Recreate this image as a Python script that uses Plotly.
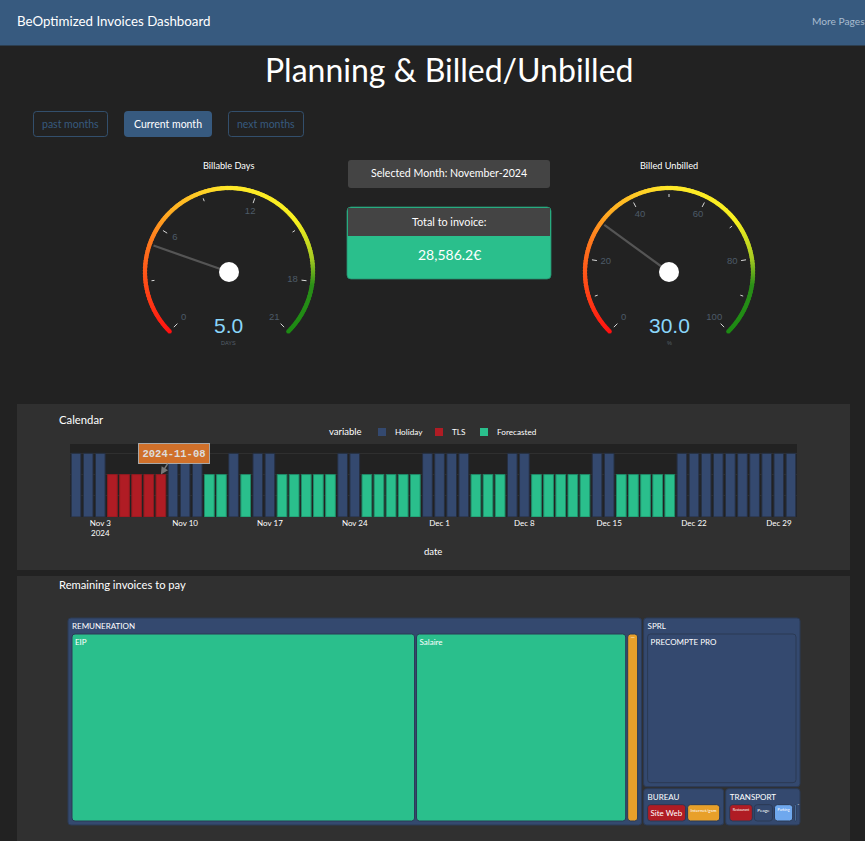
import plotly.graph_objects as go

W, H = 865, 841
FONT = "Lato"
BG = "#222222"
PANEL = "#303030"
NAVY = "#375a7f"
GREEN = "#2abf8c"
BLUE = "#34496f"
RED = "#b01c24"

# ---- data ----
gauge_titles = ["Billable Days", "Billed Unbilled"]
gauge_values = [5.0, 30.0]
gauge_units = ["DAYS", "%"]
gauge_max = [21, 100]
gauge_ticks = [[0, 3, 6, 9, 12, 15, 18, 21],
               [0, 10, 20, 30, 40, 50, 60, 70, 80, 90, 100]]
gauge_labels = [[0, 6, 12, 18, 21], [0, 20, 40, 60, 80, 100]]

holiday_dates = ["2024-11-01", "2024-11-02", "2024-11-03", "2024-11-09", "2024-11-10", "2024-11-11",
                 "2024-11-14", "2024-11-16", "2024-11-17", "2024-11-23", "2024-11-24", "2024-11-30",
                 "2024-12-01", "2024-12-02", "2024-12-03", "2024-12-07", "2024-12-08", "2024-12-14",
                 "2024-12-15", "2024-12-21", "2024-12-22", "2024-12-23", "2024-12-24", "2024-12-25",
                 "2024-12-26", "2024-12-27", "2024-12-28", "2024-12-29", "2024-12-30"]
tls_dates = ["2024-11-04", "2024-11-05", "2024-11-06", "2024-11-07", "2024-11-08"]
forecast_dates = ["2024-11-12", "2024-11-13", "2024-11-15", "2024-11-18", "2024-11-19", "2024-11-20",
                  "2024-11-21", "2024-11-22", "2024-11-25", "2024-11-26", "2024-11-27", "2024-11-28",
                  "2024-11-29", "2024-12-04", "2024-12-05", "2024-12-06", "2024-12-09", "2024-12-10",
                  "2024-12-11", "2024-12-12", "2024-12-13", "2024-12-16", "2024-12-17", "2024-12-18",
                  "2024-12-19", "2024-12-20"]
holiday_value = 1.5
workday_value = 1.0

tm_labels = ["REMUNERATION", "SPRL", "BUREAU", "TRANSPORT", "EIP", "Salaire", "Autres",
             "PRECOMPTE PRO", "Site Web", "Internet/gsm", "Restaurant", "Peage", "Parking", "Taxi"]
tm_parents = ["", "", "", "", "REMUNERATION", "REMUNERATION", "REMUNERATION", "SPRL",
              "BUREAU", "BUREAU", "TRANSPORT", "TRANSPORT", "TRANSPORT", "TRANSPORT"]
tm_values = [21873, 4915, 572, 532, 13277, 8137, 459, 4915, 309, 263, 192, 157, 157, 26]
tm_colors = [BLUE, BLUE, BLUE, BLUE, GREEN, GREEN, "#e8a02a", BLUE, RED, "#e8a02a", RED, BLUE,
             "#6fa8ee", "#6fa8ee"]


# ---- pixel helpers ----
def fx(x):
    return x / W


def fy(y):
    return 1 - y / H


def box(x0, y0, x1, y1, fill="rgba(0,0,0,0)", line=None, r=3, width=0.8):
    p = (f"M{fx(x0+r)},{fy(y0)} L{fx(x1-r)},{fy(y0)} Q{fx(x1)},{fy(y0)} {fx(x1)},{fy(y0+r)} "
         f"L{fx(x1)},{fy(y1-r)} Q{fx(x1)},{fy(y1)} {fx(x1-r)},{fy(y1)} "
         f"L{fx(x0+r)},{fy(y1)} Q{fx(x0)},{fy(y1)} {fx(x0)},{fy(y1-r)} "
         f"L{fx(x0)},{fy(y0+r)} Q{fx(x0)},{fy(y0)} {fx(x0+r)},{fy(y0)} Z")
    return dict(type="path", path=p, xref="paper", yref="paper", fillcolor=fill, layer="below",
                line=dict(color=line or "rgba(0,0,0,0)", width=width if line else 0))


def rect(x0, y0, x1, y1, fill):
    return dict(type="rect", xref="paper", yref="paper", x0=fx(x0), x1=fx(x1), y0=fy(y1), y1=fy(y0),
                fillcolor=fill, line=dict(width=0), layer="below")


def label(x, y, s, size=11, color="white", anchor="center", font=FONT):
    # annotations add a small pad on the anchored side
    xp = x - 2 if anchor == "left" else x
    return dict(text=s, x=fx(xp), y=fy(y), xref="paper", yref="paper", xanchor=anchor, yanchor="middle",
                showarrow=False, font=dict(family=font, size=size, color=color))


shapes = [
    rect(0, 0, W, 45.5, NAVY),
    rect(17, 404, 850, 570, PANEL),
    rect(17, 576, 850, H, PANEL),
    rect(70, 444, 797, 517, BG),
    box(33.5, 111.5, 107.5, 136.5, line=NAVY),
    box(124, 111, 212, 137, fill=NAVY, r=4),
    box(228.5, 111.5, 303.5, 136.5, line=NAVY),
    box(348, 160, 550, 188, fill="#444444"),
    box(347, 207, 551, 279, fill=GREEN, line="#26906f", r=4),
    rect(348, 208, 550, 236, "#444444"),
]

annotations = [
    label(17, 21, "BeOptimized Invoices Dashboard", 13.3, anchor="left"),
    label(812, 21, "More Pages", 10.2, "#a8bccf", anchor="left"),
    label(449, 70, "Planning &amp; Billed/Unbilled", 32),
    label(70.5, 124, "past months", 10.5, NAVY),
    label(168, 124, "Current month", 10.5),
    label(266, 124, "next months", 10.5, NAVY),
    label(449, 173, "Selected Month: November-2024", 10.6),
    label(449, 221, "Total to invoice:", 10.8),
    label(449, 254, "28,586.2€", 14),
    label(59, 419.5, "Calendar", 11.3, anchor="left"),
    label(59, 584.5, "Remaining invoices to pay", 11.2, anchor="left"),
    label(345.5, 431, "variable", 9.5),
    label(433, 551.5, "date", 9.5),
]

fig = go.Figure()

# ---- calendar ----
series = [("Holiday", holiday_dates, holiday_value, BLUE, "#262f40"),
          ("TLS", tls_dates, workday_value, RED, "#8f1b20"),
          ("Forecasted", forecast_dates, workday_value, GREEN, "#1f8a68")]
legend_x = [382, 439, 484]
for (name, dates, val, col, edge), lx in zip(series, legend_x):
    fig.add_trace(go.Bar(x=dates, y=[val] * len(dates), name=name, showlegend=False,
                         marker=dict(color=col, line=dict(color=edge, width=1))))
    shapes.append(rect(lx - 4, 428, lx + 4, 436, col))
    annotations.append(label(lx + 13, 431.8, name, 8.2, anchor="left"))

fig.update_layout(
    barmode="overlay", bargap=0.2,
    xaxis=dict(domain=[fx(70), fx(797)], range=["2024-10-31 12:00", "2024-12-30 12:00"], type="date",
               tick0="2024-11-03", dtick=7 * 86400000, showgrid=False, zeroline=False, ticks="",
               tickfont=dict(family=FONT, size=8, color="white")),
    yaxis=dict(domain=[fy(517), fy(444)], range=[0, 1.72], dtick=0.5, showticklabels=False,
               gridcolor="#2f2f2f", zeroline=False),
    plot_bgcolor=BG,
)
annotations.append(dict(x="2024-11-08", y=workday_value, xref="x", yref="y", ax=13, ay=-21,
                        text="<b>2024-11-08</b>", showarrow=True, arrowhead=2, arrowsize=1, arrowwidth=1.5,
                        arrowcolor="#777777", bgcolor="#d0702a", bordercolor="#a8a8a8", borderwidth=1,
                        borderpad=3.5, font=dict(family="Liberation Mono", size=10.5, color="#dddddd")))

# ---- treemap ----
fig.add_trace(go.Treemap(labels=tm_labels, parents=tm_parents, values=tm_values, branchvalues="total",
                         domain=dict(x=[fx(64), fx(804)], y=[fy(829), fy(602)]),
                         marker=dict(colors=tm_colors, cornerradius=3,
                                     line=dict(color="#2b3a55", width=1),
                                     pad=dict(t=16, l=4, r=4, b=4)),
                         textfont=dict(family=FONT, size=8, color="white"),
                         textinfo="label", textposition="top left",
                         pathbar=dict(visible=False), root=dict(color="rgba(0,0,0,0)"),
                         tiling=dict(pad=2), hoverinfo="skip"))

# ---- gauges ----
SWEEP = 270
stops = [(0, (255, 17, 17)), (.25, (255, 122, 30)), (.33, (255, 170, 34)), (.5, (255, 232, 42)),
         (.70, (248, 240, 32)), (.8, (168, 204, 34)), (.87, (42, 143, 24)), (1, (29, 138, 20))]
colorscale = [[s, f"rgb{c}"] for s, c in stops]


def add_gauge(i, cx, cy):
    name = "polar" if i == 0 else f"polar{i+1}"
    vmax = gauge_max[i]
    ang = lambda v: v / vmax * SWEEP
    pts = list(range(0, SWEEP + 1))
    fig.add_trace(go.Scatterpolar(subplot=name, r=[84] * len(pts), theta=pts, mode="markers", hoverinfo="skip",
                                  showlegend=False,
                                  marker=dict(size=4.4, color=[p / SWEEP for p in pts], colorscale=colorscale,
                                              cmin=0, cmax=1, line=dict(width=0))))
    for t in gauge_ticks[i]:
        major = t in gauge_labels[i]
        fig.add_trace(go.Scatterpolar(subplot=name, r=[73 if major else 75, 78], theta=[ang(t)] * 2, mode="lines",
                                      hoverinfo="skip", showlegend=False, line=dict(color="#d8d8d8", width=1)))
    fig.add_trace(go.Scatterpolar(subplot=name, r=[64] * len(gauge_labels[i]),
                                  theta=[ang(t) for t in gauge_labels[i]],
                                  text=[str(t) for t in gauge_labels[i]], mode="text", hoverinfo="skip",
                                  showlegend=False,
                                  textfont=dict(family="Liberation Sans", size=9.5, color="#4d5b68")))
    fig.add_trace(go.Scatterpolar(subplot=name, r=[0, 80], theta=[ang(gauge_values[i])] * 2, mode="lines",
                                  hoverinfo="skip", showlegend=False, line=dict(color="#555555", width=2.2)))
    fig.add_trace(go.Scatterpolar(subplot=name, r=[0], theta=[0], mode="markers", hoverinfo="skip",
                                  showlegend=False, marker=dict(size=20, color="white", line=dict(width=0))))
    fig.update_layout({name: dict(domain=dict(x=[fx(cx - 100), fx(cx + 100)], y=[fy(cy + 100), fy(cy - 100)]),
                                  bgcolor="rgba(0,0,0,0)",
                                  radialaxis=dict(visible=False, range=[0, 100]),
                                  angularaxis=dict(visible=False, rotation=225, direction="clockwise",
                                                   thetaunit="degrees"))})
    annotations.append(label(cx, 165.5, gauge_titles[i], 9.2))
    annotations.append(label(cx, 325.5, f"{gauge_values[i]:.1f}", 21, "#8ad6fa", font="Liberation Sans"))
    annotations.append(label(cx, 343, gauge_units[i], 5.5, "#55606b", font="Liberation Sans"))


add_gauge(0, 229, 272)
add_gauge(1, 669, 272)

fig.update_layout(width=W, height=H, margin=dict(l=0, r=0, t=0, b=0, pad=0), autosize=False,
                  paper_bgcolor=BG, font=dict(family=FONT, color="white"),
                  showlegend=False, shapes=shapes, annotations=annotations)

fig.write_html("out.html", config=dict(displayModeBar=False),
               post_script="document.body.style.margin='0';document.body.style.background='#222';"
                           "document.body.style.overflow='hidden';")
